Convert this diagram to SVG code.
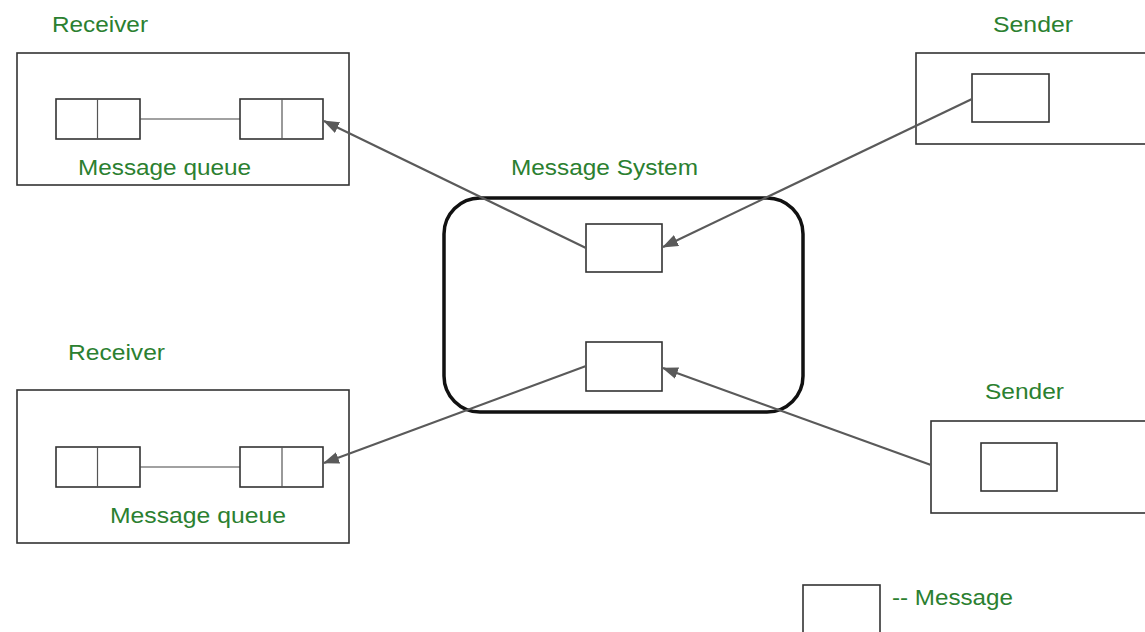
<svg xmlns="http://www.w3.org/2000/svg" width="1145" height="632" viewBox="0 0 1145 632">
  <style>
    .box { fill: #fff; stroke: #333; stroke-width: 1.6; }
    .cell { fill: none; stroke: #555; stroke-width: 1.2; }
    .sys { fill: #fff; stroke: #111; stroke-width: 3.5; }
    .lbl { font-family: "Liberation Sans", Arial, sans-serif; font-size: 22px; fill: #2b8030; }
    .link { stroke: #5a5a5a; stroke-width: 2.2; fill: none; }
    .plain { stroke: #444; stroke-width: 1.2; fill: none; }
  </style>
  <defs>
    <marker id="arrowL" viewBox="0 0 16 12" refX="15" refY="6" markerWidth="16" markerHeight="12" markerUnits="userSpaceOnUse" orient="auto">
      <path d="M0,0 L16,6 L0,12 z" fill="#5a5a5a"/>
    </marker>
  </defs>
  <rect width="1145" height="632" fill="#fff"/>

  <!-- Receiver (top) -->
  <g id="receiver-top">
    <text class="lbl" x="52" y="32" textLength="96" lengthAdjust="spacingAndGlyphs">Receiver</text>
    <rect class="box" x="17" y="53" width="332" height="132"/>
    <rect class="box" x="56" y="99" width="84" height="40"/>
    <line class="cell" x1="97.5" y1="99" x2="97.5" y2="139"/>
    <line class="plain" x1="140" y1="119" x2="240" y2="119"/>
    <rect class="box" x="240" y="99" width="83" height="40"/>
    <line class="cell" x1="282" y1="99" x2="282" y2="139"/>
    <text class="lbl" x="78" y="175" textLength="173" lengthAdjust="spacingAndGlyphs">Message queue</text>
  </g>

  <!-- Receiver (bottom) -->
  <g id="receiver-bottom">
    <text class="lbl" x="68" y="360" textLength="97" lengthAdjust="spacingAndGlyphs">Receiver</text>
    <rect class="box" x="17" y="390" width="332" height="153"/>
    <rect class="box" x="56" y="447" width="84" height="40"/>
    <line class="cell" x1="97.5" y1="447" x2="97.5" y2="487"/>
    <line class="plain" x1="140" y1="467" x2="240" y2="467"/>
    <rect class="box" x="240" y="447" width="83" height="40"/>
    <line class="cell" x1="282" y1="447" x2="282" y2="487"/>
    <text class="lbl" x="110" y="523" textLength="176" lengthAdjust="spacingAndGlyphs">Message queue</text>
  </g>

  <!-- Message system -->
  <g id="message-system">
    <text class="lbl" x="511" y="175" textLength="187" lengthAdjust="spacingAndGlyphs">Message System</text>
    <rect class="sys" x="444" y="198" width="359" height="214" rx="36" ry="36"/>
    <rect class="box" x="586" y="224" width="76" height="48"/>
    <rect class="box" x="586" y="342" width="76" height="49"/>
  </g>

  <!-- Sender (top) -->
  <g id="sender-top">
    <text class="lbl" x="993" y="32" textLength="80" lengthAdjust="spacingAndGlyphs">Sender</text>
    <rect class="box" x="916" y="53" width="240" height="91"/>
    <rect class="box" x="972" y="74" width="77" height="48"/>
  </g>

  <!-- Sender (bottom) -->
  <g id="sender-bottom">
    <text class="lbl" x="985" y="399" textLength="79" lengthAdjust="spacingAndGlyphs">Sender</text>
    <rect class="box" x="931" y="421" width="230" height="92"/>
    <rect class="box" x="981" y="443" width="76" height="48"/>
  </g>

  <!-- Legend -->
  <g id="legend">
    <rect class="box" x="803" y="585" width="77" height="60"/>
    <text class="lbl" x="892" y="605" textLength="121" lengthAdjust="spacingAndGlyphs">-- Message</text>
  </g>

  <!-- Connectors -->
  <g id="connectors">
    <line class="link" x1="586" y1="248" x2="324" y2="121" marker-end="url(#arrowL)"/>
    <line class="link" x1="972" y1="99" x2="663" y2="247" marker-end="url(#arrowL)"/>
    <line class="link" x1="586" y1="366" x2="324" y2="463" marker-end="url(#arrowL)"/>
    <line class="link" x1="931" y1="465" x2="663" y2="368" marker-end="url(#arrowL)"/>
  </g>
</svg>
